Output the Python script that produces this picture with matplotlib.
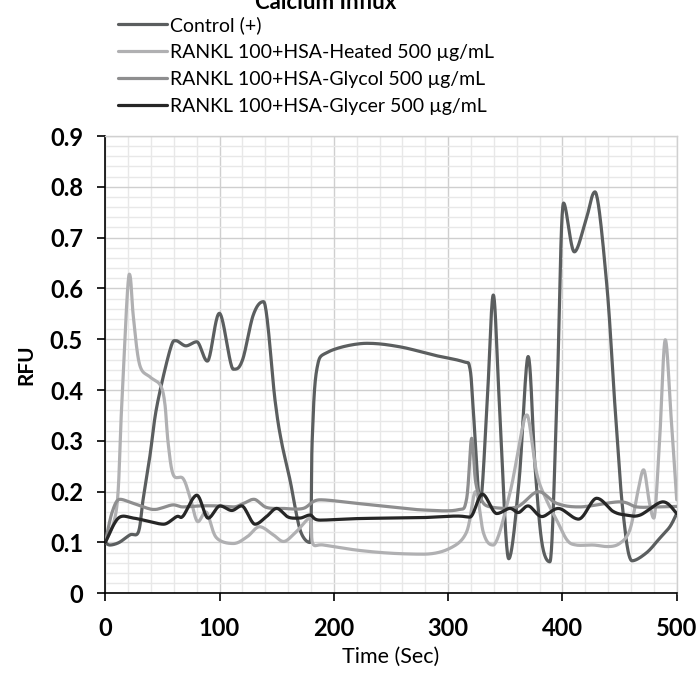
import numpy as np
import matplotlib
matplotlib.use("Agg")
import matplotlib.pyplot as plt
from matplotlib.ticker import MultipleLocator

plt.rcParams['font.family'] = ['Lato', 'DejaVu Sans']

# ---- data (time in s, RFU) ----
control_t = [0, 4, 12, 21.6, 29, 33, 39, 45, 56.6, 62, 70.6, 80, 89.3, 99.8, 112, 120,
             129.5, 138.5, 148.5, 154, 161.6, 170.4, 179, 181, 185, 195, 229, 258, 287,
             313, 319, 322, 328, 334, 339.5, 345, 353, 362, 370, 376, 382, 389,
             395, 401, 410.4, 420.6, 428.5, 438.7, 446, 453, 461, 473.7, 485, 494, 500]
control_v = [0.10, 0.095, 0.100, 0.115, 0.121, 0.184, 0.270, 0.367, 0.479, 0.497, 0.487,
             0.495, 0.457, 0.551, 0.441, 0.459, 0.548, 0.574, 0.380, 0.300, 0.223, 0.125,
             0.100, 0.300, 0.440, 0.475, 0.492, 0.485, 0.469, 0.456, 0.443, 0.360, 0.180,
             0.370, 0.587, 0.367, 0.068, 0.220, 0.466, 0.250, 0.100, 0.062, 0.367,
             0.768, 0.672, 0.735, 0.790, 0.610, 0.367, 0.160, 0.064, 0.080, 0.108, 0.131,
             0.157]

heated_t = [0, 10, 14.3, 21, 24.5, 30, 39, 48, 52, 55, 59.5, 68, 74, 81, 88, 97, 112, 124,
            135, 147, 156, 167, 179, 181.5, 191, 220, 249, 278, 301, 316, 324, 331, 339.5,
            354, 364, 369, 377.5, 386, 395, 404, 412, 427, 439, 450, 459, 466, 471, 476,
            480, 485, 490, 495, 500]
heated_v = [0.10, 0.17, 0.367, 0.628, 0.545, 0.450, 0.426, 0.410, 0.375, 0.295, 0.233,
            0.226, 0.190, 0.141, 0.160, 0.110, 0.098, 0.111, 0.131, 0.115, 0.102, 0.121,
            0.148, 0.098, 0.095, 0.085, 0.079, 0.077, 0.088, 0.120, 0.200, 0.118, 0.095,
            0.197, 0.315, 0.351, 0.236, 0.184, 0.144, 0.105, 0.095, 0.095, 0.092, 0.098,
            0.125, 0.200, 0.243, 0.180, 0.148, 0.300, 0.499, 0.350, 0.184]

glycol_t = [0, 6, 12.9, 24.5, 42, 48, 59.5, 68, 83, 97.5, 112, 121, 130, 141, 156, 173, 188,
            220, 249, 278, 307.5, 316, 320.6, 324, 329, 337, 360, 379, 395, 415, 450, 465,
            482.5, 500]
glycol_v = [0.10, 0.16, 0.185, 0.177, 0.165, 0.167, 0.174, 0.170, 0.172, 0.172, 0.170,
            0.177, 0.185, 0.169, 0.167, 0.167, 0.184, 0.177, 0.170, 0.164, 0.164, 0.184,
            0.305, 0.220, 0.184, 0.170, 0.170, 0.200, 0.177, 0.170, 0.180, 0.170, 0.170,
            0.171]

glycer_t = [0, 11.4, 24.5, 39, 51, 62.5, 68, 80, 90, 100.4, 110.6, 119.4, 131, 141, 150,
            160, 170, 179, 188, 220, 249, 278, 307.5, 319, 330, 342.5, 354, 361.4, 370, 382,
            396.4, 414, 430, 444.5, 456, 468, 488, 500]
glycer_v = [0.10, 0.148, 0.148, 0.141, 0.136, 0.151, 0.152, 0.193, 0.148, 0.172, 0.163,
            0.172, 0.136, 0.151, 0.167, 0.150, 0.148, 0.154, 0.144, 0.147, 0.148, 0.149,
            0.152, 0.150, 0.195, 0.157, 0.167, 0.159, 0.172, 0.151, 0.167, 0.146, 0.187,
            0.161, 0.154, 0.154, 0.180, 0.157]

labels = ["Control (+)",
          "RANKL 100+HSA-Heated 500 µg/mL",
          "RANKL 100+HSA-Glycol 500 µg/mL",
          "RANKL 100+HSA-Glycer 500 µg/mL"]
colors = ["#5b5e5f", "#b0b0b2", "#8e8e8f", "#262626"]


def smooth(xs, ys, n=24):
    # spreadsheet-style smoothed line: cubic bezier through every point,
    # flat tangent at local peaks/dips so they don't overshoot
    P = np.column_stack([xs, ys]).astype(float)
    N = len(P)
    tang = np.zeros_like(P)
    for i in range(N):
        a = P[i - 1] if i > 0 else P[i]
        b = P[i + 1] if i < N - 1 else P[i]
        tang[i] = (b - a) / 6
        if 0 < i < N - 1 and (P[i, 1] - a[1]) * (b[1] - P[i, 1]) < 0:
            tang[i, 1] = 0.0
    out = [P[0]]
    s = np.linspace(0, 1, n)[1:, None]
    for i in range(N - 1):
        p1, p2 = P[i], P[i + 1]
        c1 = p1 + tang[i]
        c2 = p2 - tang[i + 1]
        seg = (1 - s) ** 3 * p1 + 3 * (1 - s) ** 2 * s * c1 + 3 * (1 - s) * s ** 2 * c2 + s ** 3 * p2
        out.extend(seg)
    out = np.array(out)
    return out[:, 0], out[:, 1]


fig = plt.figure(figsize=(6.98, 6.89), dpi=100)
ax = fig.add_axes([0.1509, 0.1389, 0.8186, 0.6637])

series = [(control_t, control_v), (heated_t, heated_v), (glycol_t, glycol_v), (glycer_t, glycer_v)]
for (t, v), lab, col in zip(series, labels, colors):
    sx, sy = smooth(t, v)
    ax.plot(sx, sy, color=col, lw=2.3, label=lab, solid_capstyle='round', zorder=3)

ax.set_xlim(0, 500)
ax.set_ylim(0, 0.9)
ax.xaxis.set_major_locator(MultipleLocator(100))
ax.xaxis.set_minor_locator(MultipleLocator(20))
ax.yaxis.set_major_locator(MultipleLocator(0.1))
ax.yaxis.set_minor_locator(MultipleLocator(0.02))
ax.yaxis.set_major_formatter(lambda v, p: "0" if abs(v) < 1e-9 else f"{v:.1f}")

ax.grid(which='minor', color='#e8e8e8', lw=1.0, zorder=0)
ax.grid(which='major', color='#cfcfcf', lw=1.0, zorder=1)
ax.set_axisbelow(True)

for side in ['top', 'right']:
    ax.spines[side].set_color('#d0d0d0')
    ax.spines[side].set_linewidth(1.0)
for side in ['left', 'bottom']:
    ax.spines[side].set_color('black')
    ax.spines[side].set_linewidth(1.2)

ax.tick_params(which='major', direction='out', length=6, width=1.2, color='black')
ax.tick_params(which='minor', length=0)
ax.tick_params(axis='x', pad=11)
ax.tick_params(axis='y', pad=10)
for lbl in ax.get_xticklabels() + ax.get_yticklabels():
    lbl.set_fontsize(17)
    lbl.set_fontweight('bold')

ax.set_ylabel("RFU", fontsize=15, fontweight='bold', labelpad=10)
ax.set_xlabel("Time (Sec)", fontsize=15.5, labelpad=5)

fig.text(0.466, 0.997, "Calcium Influx", fontsize=16, fontweight='bold', ha='center', va='center')

fig.legend(loc='upper left', bbox_to_anchor=(0.158, 0.988), frameon=False, fontsize=14,
           handlelength=2.5, handletextpad=0.15, labelspacing=0.52, borderaxespad=0)

fig.savefig("out.png", dpi=100)
